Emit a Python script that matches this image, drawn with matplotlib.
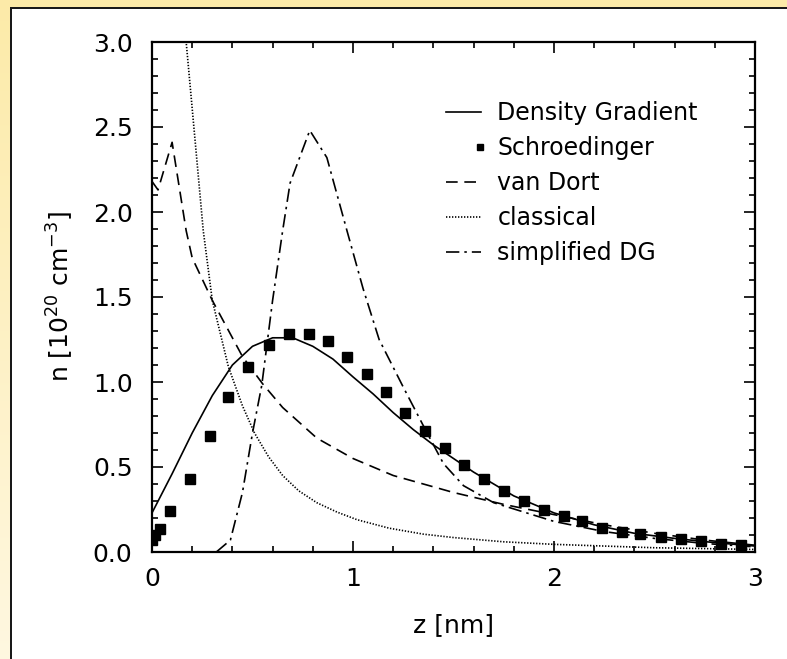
import numpy as np
import matplotlib.pyplot as plt
from matplotlib.lines import Line2D
from matplotlib.legend_handler import HandlerLine2D
from matplotlib.ticker import MultipleLocator

plt.rcParams['font.family'] = ['DejaVu Sans']

# Density Gradient (solid line)
dg_z = [0.0, 0.1, 0.2, 0.3, 0.4, 0.5, 0.6, 0.7, 0.8, 0.9, 1.0, 1.1, 1.2, 1.3,
        1.4, 1.5, 1.6, 1.7, 1.8, 1.9, 2.0, 2.2, 2.4, 2.6, 2.8, 3.0]
dg_n = [0.23, 0.46, 0.70, 0.92, 1.10, 1.21, 1.26, 1.26, 1.21, 1.135, 1.03, 0.93,
        0.82, 0.72, 0.63, 0.55, 0.47, 0.40, 0.33, 0.28, 0.23, 0.16, 0.11, 0.08,
        0.055, 0.035]

# Schroedinger (squares)
sch_z = [0.0, 0.015, 0.04, 0.09, 0.19, 0.29, 0.38, 0.48, 0.58, 0.68, 0.78, 0.875,
         0.97, 1.07, 1.165, 1.26, 1.36, 1.46, 1.55, 1.65, 1.75, 1.85, 1.95, 2.05,
         2.14, 2.24, 2.34, 2.43, 2.53, 2.63, 2.73, 2.83, 2.93]
sch_n = [0.07, 0.10, 0.135, 0.24, 0.43, 0.68, 0.91, 1.09, 1.22, 1.28, 1.28, 1.24,
         1.15, 1.05, 0.94, 0.82, 0.71, 0.61, 0.51, 0.43, 0.36, 0.30, 0.25, 0.21,
         0.18, 0.14, 0.12, 0.105, 0.09, 0.077, 0.065, 0.05, 0.04]

# van Dort (dashed)
vd_z = [0.0, 0.03, 0.1, 0.17, 0.2, 0.3, 0.45, 0.55, 0.65, 0.82, 1.0, 1.2,
        1.5, 1.75, 2.0, 2.25, 2.5, 2.75, 3.0]
vd_n = [2.18, 2.13, 2.41, 1.89, 1.73, 1.48, 1.15, 0.99, 0.85, 0.67, 0.55, 0.45,
        0.35, 0.28, 0.22, 0.16, 0.11, 0.07, 0.04]

# classical (dotted)
cl_z = [0.12, 0.17, 0.255, 0.3, 0.38, 0.45, 0.51, 0.58, 0.65, 0.73, 0.82, 0.92,
        1.02, 1.18, 1.35, 1.5, 1.75, 2.0, 2.5, 3.0]
cl_n = [4.2, 3.0, 1.89, 1.48, 1.09, 0.86, 0.70, 0.56, 0.45, 0.36, 0.29, 0.235,
        0.19, 0.14, 0.105, 0.085, 0.06, 0.045, 0.025, 0.015]

# simplified DG (dash-dot)
sdg_z = [0.32, 0.39, 0.45, 0.5, 0.546, 0.6, 0.65, 0.687, 0.785, 0.87, 0.97, 1.05,
         1.13, 1.25, 1.36, 1.45, 1.55, 1.7, 2.0, 2.25, 2.5, 2.75, 3.0]
sdg_n = [0.0, 0.07, 0.35, 0.70, 0.98, 1.48, 1.89, 2.17, 2.48, 2.32, 1.89, 1.55,
         1.25, 0.97, 0.72, 0.52, 0.39, 0.29, 0.18, 0.12, 0.08, 0.05, 0.03]

labels = ['Density Gradient', 'Schroedinger', 'van Dort', 'classical',
          'simplified DG']


class RightMarker(HandlerLine2D):
    # one marker at the right end of the legend handle
    def get_xdata(self, legend, xdescent, ydescent, width, height, fontsize):
        x = [width - xdescent - 0.05 * fontsize]
        return x, x


W, H = 787, 659
fig = plt.figure(figsize=(W / 100, H / 100), dpi=100)

# yellow frame on the top and left, dark border line
bg = np.ones((H, W, 3))
top_col = np.array([0.99, 0.92, 0.66])
bot_col = np.array([1.0, 0.97, 0.88])
for r in range(H):
    t = r / H
    bg[r, :10] = top_col * (1 - t) + bot_col * t
bg[:7, :] = top_col
bg[7:9, 10:] = 0.1
bg[7:, 10:12] = 0.1
fig.figimage(bg, 0, 0, origin='upper', zorder=-5)

ax = fig.add_axes([152 / W, 1 - 552 / H, 603 / W, 510 / H])
ax.set_zorder(2)
ax.set_facecolor('white')

lw = 1.2
h1, = ax.plot(dg_z, dg_n, color='black', lw=lw)
ax.plot(sch_z, sch_n, 's', color='black', ms=6.5)
h3, = ax.plot(vd_z, vd_n, color='black', lw=lw, dashes=(7, 4))
h4, = ax.plot(cl_z, cl_n, color='black', lw=lw, dashes=(0.8, 1.0))
h5, = ax.plot(sdg_z, sdg_n, color='black', lw=lw, dashes=(8, 3, 1.5, 3))
h2 = Line2D([], [], marker='s', ls='none', color='black', ms=5)

ax.set_xlim(0, 3)
ax.set_ylim(0, 3)
ax.xaxis.set_major_locator(MultipleLocator(1))
ax.xaxis.set_minor_locator(MultipleLocator(0.2))
ax.set_yticks(np.arange(0, 3.01, 0.5))
ax.set_yticklabels([f'{v:.1f}' for v in np.arange(0, 3.01, 0.5)])
ax.yaxis.set_minor_locator(MultipleLocator(0.1))
ax.tick_params(which='both', direction='in', top=True, right=True,
               labelsize=18, width=1.2)
ax.tick_params(which='major', length=8)
ax.tick_params(which='minor', length=4.5)
ax.tick_params(axis='y', which='major', pad=14)
ax.tick_params(axis='x', which='major', pad=11)
for s in ax.spines.values():
    s.set_linewidth(1.6)

ax.set_xlabel('z [nm]', fontsize=18, labelpad=16)
ax.set_ylabel(r'n [10$^{20}$ cm$^{-3}$]', fontsize=18, labelpad=12)

ax.legend([h1, h2, h3, h4, h5], labels, loc='upper left',
          bbox_to_anchor=((446 - 152) / 603, 1 - (101 - 42) / 510),
          borderaxespad=0, borderpad=0, frameon=False, fontsize=17,
          numpoints=1, handlelength=1.5, handletextpad=0.68,
          labelspacing=0.47, handler_map={h2: RightMarker()})

fig.savefig('out.png', dpi=100)
